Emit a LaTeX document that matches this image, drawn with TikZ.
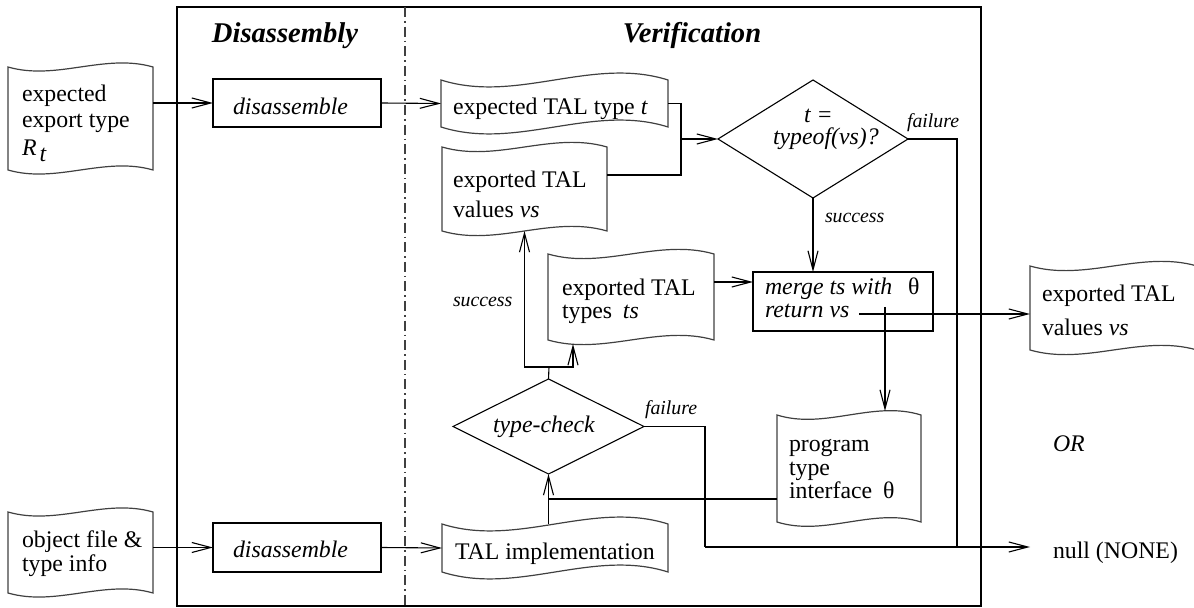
\documentclass[tikz,border=0pt]{standalone}
\usepackage{fontspec}
\setmainfont{Liberation Serif}
\usetikzlibrary{arrows.meta,calc,fit}
\newcommand\wavydoc[6]{%
  \node[area={(#2,#3) (#4,#5)}] (#1) {};
  \draw[docline] (#1.north west) .. controls +({(#4-#2)/3},#6) and +({(#2-#4)/3},-#6) .. (#1.north east)
    -- (#1.south east) .. controls +({(#2-#4)/3},-#6) and +({(#4-#2)/3},#6) .. (#1.south west) -- cycle;
}
\begin{document}
\begin{tikzpicture}[x=0.5pt,y=-0.5pt,
  every node/.style={inner sep=0pt, outer sep=0pt},
  area/.style={fit={#1}, inner sep=0pt},
  txt/.style={anchor=base west, font=\fontsize{11.9}{14}\selectfont},
  itxt/.style={anchor=base west, font=\fontsize{11.9}{14}\selectfont\itshape},
  small/.style={anchor=base west, font=\fontsize{9.9}{12}\selectfont\itshape},
  title/.style={anchor=base, font=\fontsize{14.3}{17}\selectfont\bfseries\itshape},
  conn/.style={line width=0.55pt, black},
  arr/.style={conn, -{Straight Barb[length=9.5pt,width=5pt]}},
  boxline/.style={line width=0.55pt, black},
  docline/.style={line width=0.6pt, black!75},
]
\useasboundingbox (0,0) rectangle (1194,608);

% frame and divider
\node[area={(177,7) (981,606)}, draw, line width=1.35pt] (frame) {};
\coordinate (divtop) at (405,7);
\coordinate (divbot) at (405,606);
\draw[line width=0.6pt, black!75, dash pattern=on 5pt off 2pt on 0.8pt off 2pt] (divtop) -- (divbot);

% titles
\node[title] (tDis) at (285,43) {Disassembly};
\node[title] (tVer) at (692,43) {Verification};

% documents
\wavydoc{inR}{8}{67}{153}{170}{14}
\wavydoc{obj}{8}{512}{153}{593}{14}
\wavydoc{tdoc}{441}{80}{668}{127}{24}
\wavydoc{vdoc}{442}{147}{607}{231}{16}
\wavydoc{tsdoc}{548}{254}{714}{340}{16}
\wavydoc{outdoc}{1030}{266}{1197}{350}{16}
\wavydoc{pdoc}{777}{415}{921}{522}{15}
\wavydoc{impl}{442}{524}{668}{572}{24}

% boxes
\node[area={(213,79) (381,127)}, draw, boxline] (dis1) {};
\node[area={(213,523) (381,572)}, draw, boxline] (dis2) {};
\node[area={(753,272) (933,331)}, draw, boxline] (merge) {};

% diamonds
\node[area={(718,80) (908,198)}] (d1) {};
\draw[boxline] (d1.north) -- (d1.east) -- (d1.south) -- (d1.west) -- cycle;
\node[area={(453,379) (644,474)}] (tc) {};
\draw[boxline] (tc.north) -- (tc.east) -- (tc.south) -- (tc.west) -- cycle;

% texts
\node[txt] (inR1) at (22,102) {expected};
\node[txt] (inR2) at (22,128) {export type};
\node[txt] (inR3) at (22,156) {\textit{R}\hspace{1.5pt}\raisebox{-3pt}{\textit{t}}};
\node[txt] (obj1) at (22,548) {object file \&};
\node[txt] (obj2) at (22,572) {type info};
\node[itxt] (dis1t) at (233,115) {disassemble};
\node[itxt] (dis2t) at (233,558) {disassemble};
\node[txt] (tdoct) at (453,115) {expected TAL type \textit{t}};
\node[txt] (vdoc1) at (453,188) {exported TAL};
\node[txt] (vdoc2) at (453,218) {values \textit{vs}};
\node[itxt] (d1a) at (804,123) {t =};
\node[itxt] (d1b) at (773,145) {typeof(vs)?};
\node[small] (fail1) at (907,128) {failure};
\node[small] (succ1) at (825,223) {success};
\node[itxt] (mg1) at (765,295) {merge ts with};
\node[txt] (mgth) at (908,295) {θ};
\node[itxt] (mg2) at (765,318) {return vs};
\node[txt] (ts1) at (562,296) {exported TAL};
\node[txt] (ts2) at (562,319) {types\hspace{0.45em}\textit{ts}};
\node[small] (succ2) at (453,307) {success};
\node[itxt] (tct) at (493,433) {type-check};
\node[small] (fail2) at (645,415) {failure};
\node[txt] (p1) at (789,452) {program};
\node[txt] (p2) at (789,476) {type};
\node[txt] (p3) at (789,499) {interface};
\node[txt] (pth) at (883,499) {θ};
\node[txt] (implt) at (455,560) {TAL implementation};
\node[txt] (out1) at (1042,302) {exported TAL};
\node[txt] (out2) at (1042,336) {values \textit{vs}};
\node[itxt] (ort) at (1053,452) {OR};
\node[txt] (nullt) at (1053,559) {null (NONE)};

% connectors
\draw[arr] (inR.east |- dis1.west) -- (dis1.west);
\draw[arr] (dis1.east) -- (tdoc.west);
\draw[arr] (obj.east |- dis2.west) -- (dis2.west);
\draw[arr] (dis2.east) -- (impl.west);

\coordinate (j1) at (681,139);
\coordinate (vout) at ($(vdoc.east)+(0,-14)$);
\draw[conn] (tdoc.east) -| (j1);
\draw[conn] (vout) -| (j1);
\draw[arr] (j1) -- (d1.west);

\coordinate (f1) at (957,547);
\draw[conn] (d1.east) -| (f1);
\draw[arr] (d1.south) -- (d1.south |- merge.north);

\coordinate (tsout) at ($(tsdoc.east)+(0,-15)$);
\draw[arr] (tsout) -- (tsout -| merge.west);

\coordinate (mout) at (859,314);
\draw[arr] (mout) -- (mout -| outdoc.west);
\coordinate (mv) at (885,307);
\draw[arr] (mv) -- ($(mv |- pdoc.north)+(0,-4)$);

\coordinate (j2) at (549,499);
\draw[conn] (pdoc.west |- j2) -- (j2);
\draw[arr] (impl.north -| tc.south) -- (tc.south);

\coordinate (j3) at (549,367);
\draw[conn] (tc.north) -- (j3);
\draw[arr] (j3) -| (vdoc.south);
\draw[arr] (j3) -| ($(tsdoc.south west)+(25,4)$);

\coordinate (j4) at (705,547);
\coordinate (nul) at (1030,547);
\draw[conn] (tc.east) -| (j4);
\draw[arr] (j4) -- (nul);
\end{tikzpicture}
\end{document}
